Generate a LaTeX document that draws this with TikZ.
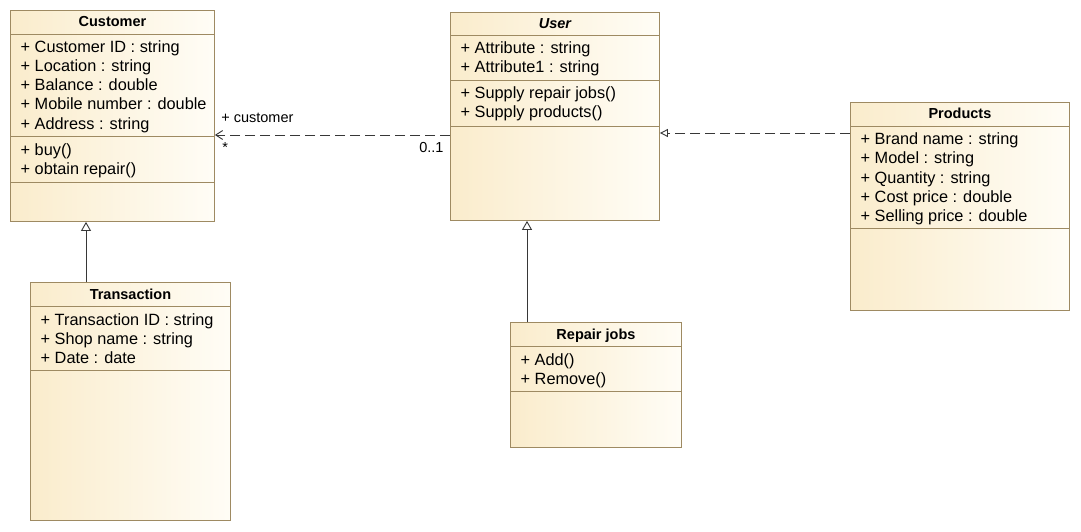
\documentclass[tikz,border=0pt]{standalone}
\usepackage{fontspec}
\setmainfont{Liberation Sans}
\usetikzlibrary{arrows.meta,calc,positioning}
\definecolor{umlline}{RGB}{158,138,98}
\definecolor{umlleft}{RGB}{250,236,204}
\definecolor{umlright}{RGB}{255,253,246}
\definecolor{conn}{RGB}{55,55,55}
\tikzstyle{classbox} = [rectangle, draw=umlline, line width=0.9pt, left color=umlleft,
right color=umlright, anchor=north west, inner sep=0pt]
\tikzstyle{sep} = [draw=umlline, line width=0.9pt]
\tikzstyle{title} = [inner sep=0pt, anchor=base, font=\fontsize{14.5}{17}\selectfont\bfseries]
\tikzstyle{member} = [inner sep=0pt, anchor=base west, font=\fontsize{16.3}{19}\selectfont]
\tikzstyle{lbl} = [inner sep=0pt, font=\fontsize{14.5}{17}\selectfont]
\tikzstyle{inherit} = [draw=conn, line width=0.9pt, -{Triangle[open, length=9pt, width=10pt]}]
\tikzstyle{realize} = [draw=conn, line width=0.9pt, dash pattern=on 10pt off 5pt,
-{Triangle[open, length=8pt, width=8pt]}]
\tikzstyle{assoc} = [draw=conn, line width=0.9pt, dash pattern=on 10pt off 5pt,
-{Straight Barb[length=7pt, width=9pt]}]

\begin{document}
\begin{tikzpicture}[x=1pt, y=-1pt]
\fill[white] (0,0) rectangle (1081,532);
\useasboundingbox (0,0) rectangle (1081,532);

% classes
\node [classbox, minimum width=204pt, minimum height=211pt] (cust) at (10,10) {};
\node [classbox, minimum width=209pt, minimum height=208pt] (user) at (450,12) {};
\node [classbox, minimum width=219pt, minimum height=208pt] (prod) at (850,102) {};
\node [classbox, minimum width=200pt, minimum height=238pt] (trans) at (30,282) {};
\node [classbox, minimum width=171pt, minimum height=125pt] (repair) at (510,322) {};

% compartment lines
\foreach \d in {24,126,172}
  \draw [sep] ($(cust.north west)+(0,\d)$) -- ($(cust.north east)+(0,\d)$);
\foreach \d in {23,68,114}
  \draw [sep] ($(user.north west)+(0,\d)$) -- ($(user.north east)+(0,\d)$);
\foreach \d in {24,126}
  \draw [sep] ($(prod.north west)+(0,\d)$) -- ($(prod.north east)+(0,\d)$);
\foreach \d in {24,88}
  \draw [sep] ($(trans.north west)+(0,\d)$) -- ($(trans.north east)+(0,\d)$);
\foreach \d in {24,69}
  \draw [sep] ($(repair.north west)+(0,\d)$) -- ($(repair.north east)+(0,\d)$);

% titles
\node [title] (cust-t) at ($(cust.north)+(0,17)$) {Customer};
\node [title, font=\fontsize{14.5}{17}\selectfont\bfseries\itshape] (user-t) at ($(user.north)+(0,17)$) {User};
\node [title] (prod-t) at ($(prod.north)+(0,17)$) {Products};
\node [title] (trans-t) at ($(trans.north)+(0,17)$) {Transaction};
\node [title] (repair-t) at ($(repair.north)+(0,17)$) {Repair jobs};

% members
\foreach \txt [count=\i] in {+ Customer ID : string, + Location : string, + Balance : double,
  + Mobile number : double, + Address : string}
  \node [member] (cust-a\i) at ($(cust.north west)+(10.5,24+19*\i)$) {\txt};
\foreach \txt [count=\i] in {+ buy(), + obtain repair()}
  \node [member] (cust-o\i) at ($(cust.north west)+(10.5,126+19*\i)$) {\txt};
\foreach \txt [count=\i] in {+ Attribute : string, + Attribute1 : string}
  \node [member] (user-a\i) at ($(user.north west)+(10.5,23+19*\i)$) {\txt};
\foreach \txt [count=\i] in {+ Supply repair jobs(), + Supply products()}
  \node [member] (user-o\i) at ($(user.north west)+(10.5,68+19*\i)$) {\txt};
\foreach \txt [count=\i] in {+ Brand name : string, + Model : string, + Quantity : string,
  + Cost price : double, + Selling price : double}
  \node [member] (prod-a\i) at ($(prod.north west)+(10.5,24+19*\i)$) {\txt};
\foreach \txt [count=\i] in {+ Transaction ID : string, + Shop name : string, + Date : date}
  \node [member] (trans-a\i) at ($(trans.north west)+(10.5,24+19*\i)$) {\txt};
\foreach \txt [count=\i] in {+ Add(), + Remove()}
  \node [member] (repair-o\i) at ($(repair.north west)+(10.5,24+19*\i)$) {\txt};

% relations
\coordinate (trans top) at ($(trans.north west)+(56,0)$);
\coordinate (repair top) at ($(repair.north west)+(17,0)$);
\coordinate (prod left) at ($(prod.north west)+(0,31)$);
\coordinate (user left) at ($(user.north west)+(0,123)$);
\path [inherit] (trans top) -- (trans top |- cust.south);
\path [inherit] (repair top) -- (repair top |- user.south);
\path [realize] (prod left) -- (prod left -| user.east);
\path [assoc] (user left) -- (user left -| cust.east)
  node [lbl, pos=1, anchor=base west, xshift=6pt, yshift=12pt] (role) {+ customer}
  node [lbl, pos=1, anchor=base west, xshift=7pt, yshift=-18pt] (mult-c) {*}
  node [lbl, pos=0, anchor=base east, xshift=-6pt, yshift=-18pt] (mult-u) {0..1};
\end{tikzpicture}
\end{document}
